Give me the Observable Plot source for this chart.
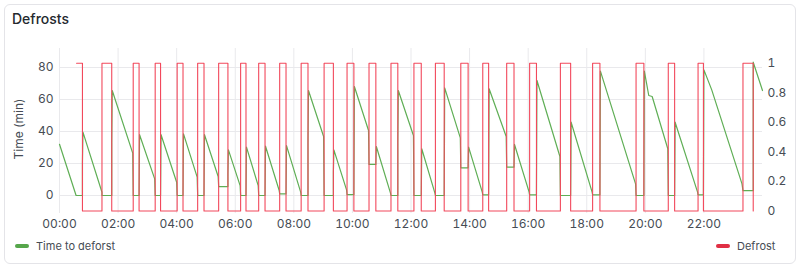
<!DOCTYPE html>
<html>
<head>
<meta charset="utf-8">
<script src="https://cdn.jsdelivr.net/npm/d3@7"></script>
<script src="https://cdn.jsdelivr.net/npm/@observablehq/plot@0.6"></script>
<style>
  html, body { margin: 0; padding: 0; background: #ffffff; }
  body { width: 800px; height: 267px; position: relative; overflow: hidden; font-family: Inter, "Noto Sans", sans-serif; color: #24292e; }
  #panel { position: absolute; left: 4px; top: 4px; width: 792px; height: 260px; box-sizing: border-box; border: 1px solid #e4e4e8; border-radius: 6px; background: #fff; }
  #title { position: absolute; left: 12px; top: 10px; font-size: 14px; font-weight: 500; line-height: 18px; color: #24292e; }
  #chart { position: absolute; left: 0; top: 30px; width: 800px; height: 200px; }
  #chart svg { position: absolute; left: 0; top: 0; }
  #ylabel { position: absolute; left: 17.7px; top: 129px; transform: translate(-50%, -50%) rotate(-90deg); font-size: 12px; color: #464c54; white-space: nowrap; }
  .legend { position: absolute; top: 237px; height: 17px; display: flex; align-items: center; font-size: 11px; color: #464c54; white-space: nowrap; }
  .sw { width: 14px; height: 4px; border-radius: 2px; margin-right: 7px; }
</style>
</head>
<body>
<div id="panel"></div>
<div id="title">Defrosts</div>
<div id="chart"></div>
<div id="ylabel">Time (min)</div>
<div class="legend" style="left:15px"><span class="sw" style="background:#56A64B"></span><span>Time to deforst</span></div>
<div class="legend" style="left:716px"><span class="sw" style="background:#E02F44"></span><span>Defrost</span></div>
<script>
// ---- Data ----
const seriesNames = ["Time to deforst", "Defrost"];
const xTickLabels = ["00:00","02:00","04:00","06:00","08:00","10:00","12:00","14:00","16:00","18:00","20:00","22:00"];
const leftTicks = [0, 20, 40, 60, 80];
const rightTicks = [0, 0.2, 0.4, 0.6, 0.8, 1];

// Defrost (right axis): times the signal switches on (1) and off (0)
const defrostOn  = ["00:35","01:27","02:31","03:16","04:01","04:43","05:26","06:11","06:48","07:31","08:15","09:02","09:49","10:34","11:19","12:06","12:50","13:42","14:27","15:16","16:03","17:06","18:12","19:41","20:47","21:48","23:20"];
const defrostOff = ["00:47","01:47","02:43","03:27","04:13","04:56","05:45","06:22","07:01","07:44","08:29","09:21","10:03","10:48","11:33","12:21","13:08","13:57","14:39","15:31","16:17","17:27","18:27","19:57","21:00","21:59","23:41"];

// Time to defrost (left axis, minutes)
const greenTimes = ["00:00","00:34","00:47","00:47","00:48","01:27","01:27","01:47","01:47","01:48","02:30","02:31","02:43","02:44","03:15","03:16","03:27","03:28","04:00","04:01","04:13","04:14","04:42","04:43","04:56","04:57","05:25","05:26","05:45","05:45","05:46","06:10","06:11","06:22","06:23","06:47","06:48","07:01","07:02","07:30","07:31","07:44","07:45","08:14","08:15","08:29","08:29","08:30","09:01","09:02","09:21","09:21","09:22","09:48","09:49","10:03","10:04","10:33","10:34","10:48","10:49","11:18","11:19","11:33","11:33","11:34","12:05","12:06","12:21","12:22","12:49","12:50","13:08","13:09","13:41","13:42","13:57","13:58","14:26","14:27","14:39","14:40","15:15","15:16","15:31","15:32","16:02","16:03","16:17","16:18","17:05","17:06","17:27","17:28","18:11","18:12","18:27","18:28","19:40","19:41","19:57","19:58","20:07","20:14","20:46","20:47","21:00","21:01","21:47","21:48","21:59","22:00","22:16","23:18","23:20","23:41","23:41","24:00"];
const greenValues = [32,0,0,20,39.6,2,0,0,33,65.6,26.5,0,0,38,10.4,0,0,38,8.3,0,0,38.5,11.5,0,0,38,11.9,5.6,5.6,13.5,28.5,6.2,0,0,30.2,6.2,0,0,30.8,3.1,1,1,31.2,2.1,0,0,32.7,65.6,36.9,0,0,14.6,28.5,3.5,0.6,0.6,68.1,40.6,19.4,19.4,30.6,1.5,0,0,33.3,65.6,37.5,0,0,29.2,1.5,0,0,67.3,36,17.3,17.3,30.2,2.1,0.4,0.4,66.7,36.9,17.7,17.7,31.9,2.1,0.4,0.4,71.9,24.4,0,0,45.8,2.1,0.4,0.4,77.7,7.3,0,0,77.7,62.5,61.9,29.2,0,0,45.8,2.1,0.4,0.4,78.5,66,7.3,3.1,3.1,83.3,65.6];

const colors = {green: "#5FAE55", red: "#F2495C"};

// ---- Build tables ----
const toDate = s => { const [h, m] = s.split(":").map(Number); return new Date(Date.UTC(2024, 0, 1, h, m)); };
const green = greenTimes.map((t, i) => ({t: toDate(t), v: greenValues[i]}));
const defrost = [];
defrostOn.forEach((t, i) => { defrost.push({t: toDate(t), v: 1}); defrost.push({t: toDate(defrostOff[i]), v: 0}); });
const xTicks = xTickLabels.map(toDate);
const xDomain = [toDate("00:00"), toDate("24:00")];

const common = {
  width: 800, height: 200,
  marginLeft: 59, marginRight: 38, marginTop: 18, marginBottom: 17,
  style: {background: "transparent", fontFamily: "Inter, 'Noto Sans', sans-serif", fontSize: "12px", color: "#464c54", overflow: "visible"}
};

const p1 = Plot.plot({
  ...common,
  x: {type: "utc", domain: xDomain},
  y: {domain: [-11.25, 91.875]},
  marks: [
    Plot.gridX(xTicks, {stroke: "#e9e9ec", strokeOpacity: 1}),
    Plot.gridY(leftTicks, {stroke: "#e9e9ec", strokeOpacity: 1}),
    Plot.axisX(xTicks, {tickSize: 0, tickPadding: 6, tickFormat: d3.utcFormat("%H:%M"), label: null, fill: "#464c54"}),
    Plot.axisY(leftTicks, {tickSize: 0, tickPadding: 6, label: null, fill: "#464c54"}),
    Plot.line(green, {x: "t", y: "v", stroke: colors.green, strokeWidth: 1.2})
  ]
});

const p2 = Plot.plot({
  ...common,
  x: {type: "utc", domain: xDomain, axis: null},
  y: {domain: [-0.017, 1.0995], axis: null},
  marks: [
    Plot.line(defrost, {x: "t", y: "v", curve: "step-after", stroke: colors.red, strokeWidth: 1.1}),
    Plot.axisY(rightTicks, {anchor: "right", tickSize: 0, tickPadding: 5, tickFormat: d => String(d), label: null, fill: "#464c54"})
  ]
});

const chart = document.getElementById("chart");
chart.appendChild(p1);
chart.appendChild(p2);
</script>
</body>
</html>
